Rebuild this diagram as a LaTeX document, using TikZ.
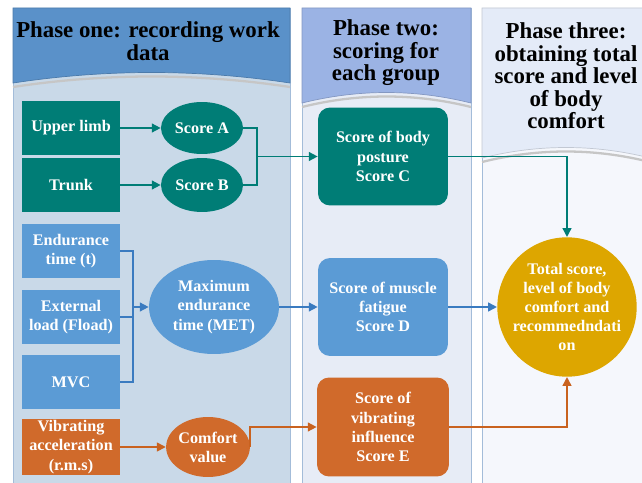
\documentclass[tikz,border=0pt]{standalone}
\usepackage{fontspec}
\setmainfont{Liberation Serif}
\usetikzlibrary{shapes.geometric,arrows.meta}

\definecolor{hdrone}{HTML}{5A91C9}
\definecolor{hdrtwo}{HTML}{9BB3E4}
\definecolor{hdrthree}{HTML}{E4EBF8}
\definecolor{bodyone}{HTML}{C9D9E8}
\definecolor{bodytwo}{HTML}{E7ECF6}
\definecolor{bodythree}{HTML}{F5F7FC}
\definecolor{panelline}{HTML}{A3BCD9}
\definecolor{postureclr}{HTML}{007D76}
\definecolor{fatigueclr}{HTML}{5B9BD5}
\definecolor{vibrclr}{HTML}{D06A2B}
\definecolor{totalclr}{HTML}{DDA600}
\definecolor{bluearrow}{HTML}{3A7BC0}
\definecolor{orangearrow}{HTML}{C9621F}

\tikzset{
  txt/.style={font=\bfseries\fontsize{9.2}{10.9}\selectfont, text=white, align=center, inner sep=0pt},
  inbox/.style={txt, rectangle, minimum width=1.96cm, minimum height=1.1cm},
  oval/.style={txt, ellipse, minimum width=1.64cm, minimum height=1.04cm},
  scorebox/.style={txt, rectangle, rounded corners=0.24cm, minimum width=2.6cm, minimum height=1.96cm},
  flow/.style={line width=0.9pt, -{Triangle[length=5pt,width=5pt]}},
  hdr/.style={font=\bfseries\fontsize{13}{12.8}\selectfont, align=center}
}

\begin{document}
\begin{tikzpicture}[x=0.02cm,y=-0.02cm]
\clip (0,0) rectangle (642,483);
\fill[white] (0,0) rectangle (642,483);

% three phase panels
\foreach \xl/\xr/\yb/\hc/\bc in {13/290/83/hdrone/bodyone, 302/471/103/hdrtwo/bodytwo, 482/650/158/hdrthree/bodythree}
{
  \filldraw[fill=\bc, draw=panelline] (\xl,8) rectangle (\xr,495);
  \filldraw[fill=\hc, draw=\hc!85!black] (\xl,8) -- (\xr,8) -- (\xr,\yb)
    .. controls ({\xr-(\xr-\xl)/3},{\yb-14}) and ({\xl+(\xr-\xl)/3},{\yb-14}) .. (\xl,\yb) -- cycle;
  \draw[gray!45, line width=1.3pt] (\xr,\yb+4)
    .. controls ({\xr-(\xr-\xl)/3},{\yb-10}) and ({\xl+(\xr-\xl)/3},{\yb-10}) .. (\xl,\yb+4);
}

\node[hdr] (hone) at (148,41) {Phase one: recording work\\data};
\node[hdr] (htwo) at (386,53) {Phase two:\\scoring for\\each group};
\node[hdr] (hthree) at (566,76) {Phase three:\\obtaining total\\score and level\\of body\\comfort};

% phase one
\node[inbox, fill=postureclr] (upper) at (71,128) {Upper limb};
\node[inbox, fill=postureclr] (trunk) at (71,185) {Trunk};
\node[oval, fill=postureclr] (scoreA) at (202,128) {Score A};
\node[oval, fill=postureclr, minimum height=1.08cm] (scoreB) at (202,185) {Score B};

\node[inbox, fill=fatigueclr] (endur) at (71,251) {Endurance\\time (t)};
\node[inbox, fill=fatigueclr] (extload) at (71,317) {External\\load (Fload)};
\node[inbox, fill=fatigueclr] (mvc) at (71,382) {MVC};
\node[oval, fill=fatigueclr, minimum width=2.6cm, minimum height=1.88cm] (met) at (214,307) {Maximum\\endurance\\time (MET)};

\node[inbox, fill=vibrclr, minimum height=1.12cm] (vib) at (71,447) {Vibrating\\acceleration\\(r.m.s)};
\node[oval, fill=vibrclr, minimum height=1.2cm] (comfort) at (208,447) {Comfort\\value};

% phase two
\node[scorebox, fill=postureclr] (scoreC) at (383,156.5) {Score of body\\posture\\Score C};
\node[scorebox, fill=fatigueclr] (scoreD) at (383,307) {Score of muscle\\fatigue\\Score D};
\node[scorebox, fill=vibrclr, minimum width=2.64cm, minimum height=1.98cm] (scoreE) at (383,427) {Score of\\vibrating\\influence\\Score E};

% phase three
\node[txt, circle, fill=totalclr, minimum size=2.76cm] (total) at (567,307) {Total score,\\level of body\\comfort and\\recommedndati\\on};

% connectors
\coordinate (jAB) at (257,156.5);
\coordinate (jM) at (133,307);

\draw[flow, postureclr] (upper) -- (scoreA);
\draw[flow, postureclr] (trunk) -- (scoreB);
\draw[line width=0.9pt, postureclr] (scoreA.east) -| (jAB) |- (scoreB.east);
\draw[flow, postureclr] (jAB) -- (jAB -| scoreC.west);
\draw[flow, postureclr] (scoreC.east) -| (total.north);

\draw[line width=0.9pt, bluearrow] (endur.east) -| (jM) |- (mvc.east);
\draw[line width=0.9pt, bluearrow] (extload.east) -- (extload.east -| jM);
\draw[flow, bluearrow] (jM) -- (met.west);
\draw[flow, bluearrow] (met) -- (scoreD);
\draw[flow, bluearrow] (scoreD) -- (total);

\draw[flow, orangearrow] (vib) -- (comfort);
\draw[flow, orangearrow] (comfort.east) |- (scoreE.west);
\draw[flow, orangearrow] (scoreE.east) -| (total.south);
\end{tikzpicture}
\end{document}
